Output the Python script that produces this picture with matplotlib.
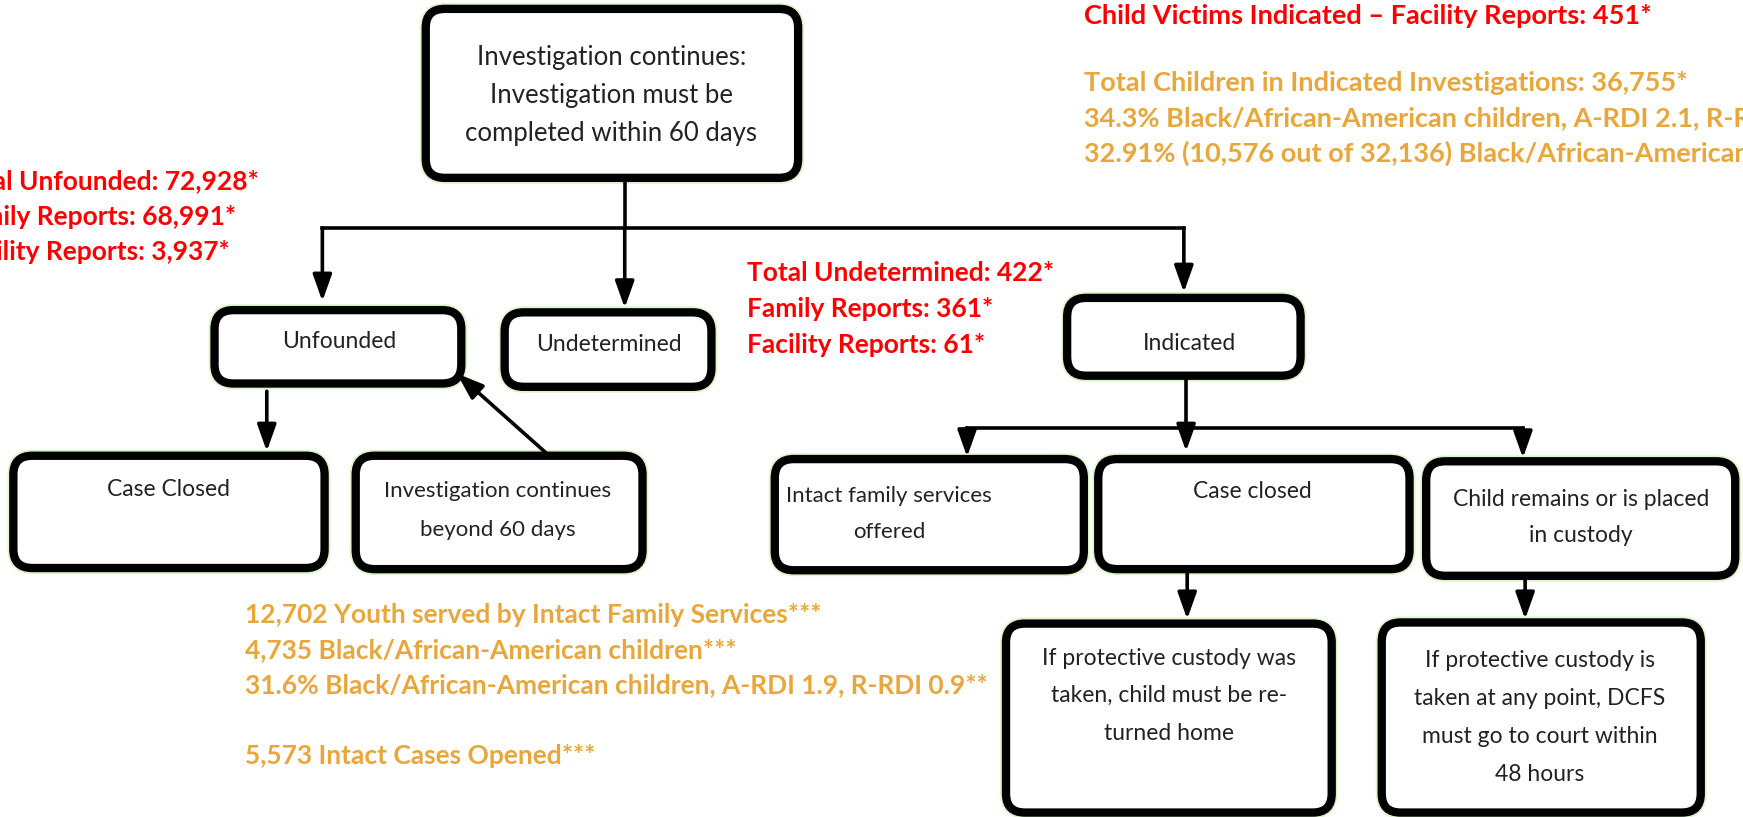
import matplotlib.pyplot as plt
from matplotlib.patches import FancyBboxPatch

plt.rcParams["font.family"] = ["Lato", "DejaVu Sans"]

# ---- texts of the flowchart ----
box_texts = [
    "Investigation continues:\nInvestigation must be\ncompleted within 60 days",
    "Unfounded",
    "Undetermined",
    "Indicated",
    "Case Closed",
    "Investigation continues\nbeyond 60 days",
    "Intact family services\noffered",
    "Case closed",
    "Child remains or is placed\nin custody",
    "If protective custody was\ntaken, child must be re-\nturned home",
    "If protective custody is\ntaken at any point, DCFS\nmust go to court within\n48 hours",
]
unfounded_stats = ["Total Unfounded: 72,928*", "Family Reports: 68,991*", "Facility Reports: 3,937*"]
undetermined_stats = ["Total Undetermined: 422*", "Family Reports: 361*", "Facility Reports: 61*"]
facility_victims = "Child Victims Indicated \u2013 Facility Reports: 451*"
indicated_stats = ["Total Children in Indicated Investigations: 36,755*",
                   "34.3% Black/African-American children, A-RDI 2.1, R-RDI",
                   "32.91% (10,576 out of 32,136) Black/African-American children"]
intact_stats = ["12,702 Youth served by Intact Family Services***",
                "4,735 Black/African-American children***",
                "31.6% Black/African-American children, A-RDI 1.9, R-RDI 0.9**",
                "",
                "5,573 Intact Cases Opened***"]

# ---- layout (canvas units, y grows downward) ----
box_pos = [(383, 8, 718, 160), (193, 279, 415, 345), (454, 281, 640, 348),
           (960, 268, 1170, 338), (12, 410, 292, 511), (320, 410, 578, 512),
           (697, 413, 975, 513), (988, 413, 1268, 512), (1283, 415, 1561, 518),
           (905, 561, 1198, 731), (1243, 560, 1530, 731)]
text_pos = [(550, 52), (305, 307), (548, 310), (1070, 309), (152, 440), (448, 442),
            (800, 446), (1127, 442), (1422, 449), (1052, 592), (1385, 594)]
text_size = [18.5, 16.5, 16.5, 16.5, 16.5, 16, 16, 16.5, 16.5, 16.5, 16.5]
text_gap = [34, 34, 34, 34, 34, 35, 33, 34, 33, 34, 34.3]

RED = "#FF0000"
ORANGE = "#E9A73B"

fig = plt.figure(figsize=(17.43, 8.17), dpi=100, facecolor="white")
ax = fig.add_axes([0, 0, 1, 1])
ax.set_xlim(0, 1568)
ax.set_ylim(735, 0)
ax.axis("off")

# boxes
for (x0, y0, x1, y1), txt, (tx, ty), fs, g in zip(box_pos, box_texts, text_pos,
                                                  text_size, text_gap):
    ax.add_patch(FancyBboxPatch((x0, y0), x1 - x0, y1 - y0,
                                boxstyle="round,pad=0,rounding_size=17",
                                fc="white", ec="#dcf5c8", lw=8.5, zorder=2))
    ax.add_patch(FancyBboxPatch((x0, y0), x1 - x0, y1 - y0,
                                boxstyle="round,pad=0,rounding_size=17",
                                fc="white", ec="black", lw=6.0, zorder=3))
    for i, line in enumerate(txt.split("\n")):
        ax.text(tx, ty + i * g, line, ha="center", va="center",
                fontsize=fs, color="#222222", zorder=4)

# connector lines
lw = 2.6
ax.plot([562, 562], [160, 205], color="black", lw=lw)
ax.plot([290, 1065], [205, 205], color="black", lw=lw)
ax.plot([1067, 1067], [338, 385], color="black", lw=lw)
ax.plot([870, 1370], [385, 385], color="black", lw=lw)


def arrow(x0, y0, x1, y1):
    ax.annotate("", xy=(x1, y1), xytext=(x0, y0),
                arrowprops=dict(arrowstyle="-|>,head_length=0.9,head_width=0.32",
                                lw=lw, color="black", shrinkA=0, shrinkB=0,
                                mutation_scale=18), zorder=5)


arrow(290, 205, 290, 271)
arrow(562, 205, 562, 277)
arrow(1065, 205, 1065, 263)
arrow(240, 352, 240, 406)
arrow(493, 409, 411, 336)
arrow(870, 385, 870, 411)
arrow(1067, 385, 1067, 406)
arrow(1370, 385, 1370, 412)
arrow(1068, 515, 1068, 557)
arrow(1372, 521, 1372, 557)

# statistics
for i, s in enumerate(unfounded_stats):
    ax.text([233, 212, 207][i], 163 + i * 32, s, ha="right", va="center",
            fontsize=19, fontweight="bold", color=RED)
for i, s in enumerate(undetermined_stats):
    ax.text(672, 246 + i * 32, s, ha="left", va="center",
            fontsize=19, fontweight="bold", color=RED)
ax.text(975, 14, facility_victims, ha="left", va="center",
        fontsize=19.5, fontweight="bold", color=RED)
for i, s in enumerate(indicated_stats):
    ax.text(975, 75 + i * 31.5, s, ha="left", va="center",
            fontsize=19.5, fontweight="bold", color=ORANGE)
for i, s in enumerate(intact_stats):
    ax.text(220, 553 + i * 31.8, s, ha="left", va="center",
            fontsize=19, fontweight="bold", color=ORANGE)

plt.savefig("out.png", dpi=100, facecolor="white")
